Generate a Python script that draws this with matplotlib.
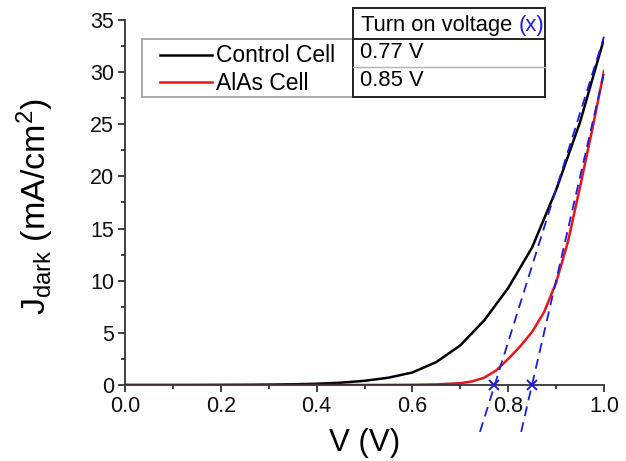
import matplotlib
matplotlib.use("Agg")
import matplotlib.pyplot as plt
from matplotlib.patches import Rectangle
from matplotlib.lines import Line2D
from matplotlib.ticker import MultipleLocator, FormatStrFormatter

plt.rcParams['font.family'] = ['Liberation Sans', 'DejaVu Sans']
plt.rcParams['mathtext.fontset'] = 'custom'
plt.rcParams['mathtext.rm'] = 'Liberation Sans'
plt.rcParams['mathtext.it'] = 'Liberation Sans:italic'

control_v = [0.0, 0.05, 0.1, 0.15, 0.2, 0.25, 0.3, 0.35, 0.4, 0.45, 0.5,
             0.55, 0.6, 0.65, 0.7, 0.75, 0.8, 0.85, 0.9, 0.95, 1.0]
control_j = [0.0, 0.0, 0.0, 0.0, 0.01, 0.02, 0.04, 0.07, 0.12, 0.22, 0.4,
             0.7, 1.2, 2.2, 3.8, 6.2, 9.3, 13.2, 18.7, 25.2, 33.2]
alas_v = [0.0, 0.1, 0.2, 0.3, 0.4, 0.5, 0.55, 0.6, 0.65, 0.7, 0.725, 0.75,
          0.775, 0.8, 0.825, 0.85, 0.875, 0.9, 0.925, 0.95, 0.975, 1.0]
alas_j = [0.0, 0.0, 0.0, 0.0, 0.0, 0.005, 0.01, 0.02, 0.06, 0.17, 0.35, 0.7,
          1.4, 2.5, 3.7, 5.1, 7.0, 9.8, 13.8, 19.0, 24.4, 30.1]
series_names = ["Control Cell", "AlAs Cell"]
series_colors = ["black", "#e8141a"]
turn_on = [0.77, 0.85]
turn_on_labels = ["0.77 V", "0.85 V"]
table_header = "Turn on voltage "
# tangent-line endpoints
tangent1_x = [0.741, 1.0]
tangent1_y = [-4.5, 33.4]
tangent2_x = [0.827, 1.0]
tangent2_y = [-4.5, 29.9]

W, H = 626, 461
BLUE = '#1c1ce0'
fig = plt.figure(figsize=(W / 100, H / 100), dpi=100)
ax = fig.add_axes([125 / W, 1 - 385 / H, (604 - 125) / W, (385 - 20) / H])

l1, = ax.plot(control_v, control_j, color=series_colors[0], lw=1.8, label=series_names[0])
l2, = ax.plot(alas_v, alas_j, color=series_colors[1], lw=1.8, label=series_names[1])
ax.plot(tangent1_x, tangent1_y, color=BLUE, lw=1.3, ls=(0, (5.5, 3.5)), clip_on=False)
ax.plot(tangent2_x, tangent2_y, color=BLUE, lw=1.3, ls=(0, (5.5, 3.5)), clip_on=False)
ax.plot(turn_on, [0, 0], ls='none', marker='x', color=BLUE, ms=7, mew=1.4,
        clip_on=False, zorder=5)

ax.set_xlim(0, 1.0)
ax.set_ylim(0, 35)
ax.xaxis.set_major_locator(MultipleLocator(0.2))
ax.xaxis.set_minor_locator(MultipleLocator(0.1))
ax.yaxis.set_major_locator(MultipleLocator(5))
ax.yaxis.set_minor_locator(MultipleLocator(2.5))
ax.xaxis.set_major_formatter(FormatStrFormatter('%.1f'))
for s in ['top', 'right']:
    ax.spines[s].set_visible(False)
for s in ['left', 'bottom']:
    ax.spines[s].set_color('#333333')
    ax.spines[s].set_linewidth(1.3)
ax.tick_params(which='major', direction='out', length=5, width=1.3, colors='#333333',
               labelsize=15.5, labelcolor='#111111', pad=3)
ax.tick_params(which='minor', direction='out', length=3.2, width=1.3, colors='#333333')

ax.set_xlabel('V (V)', fontsize=22.5)
ax.xaxis.set_label_coords(0.5, (385 - 443) / 365)
ax.xaxis.label.set_va('center')
ax.set_ylabel(r'J$_{\mathrm{dark}}$ (mA/cm$^{2}$)', fontsize=24.5)
ax.yaxis.set_label_coords((35 - 125) / 479, 0.49)
ax.yaxis.label.set_va('center')

def fx(p):
    return p / W

def fy(p):
    return 1 - p / H

# legend box (drawn manually to match the original placement)
fig.add_artist(Rectangle((fx(142), fy(97)), fx(353 - 142), (97 - 39) / H,
                         transform=fig.transFigure, facecolor='white',
                         edgecolor='#9a9a9a', lw=1.2, zorder=4))
for line, yc in zip([l1, l2], [55, 82]):
    fig.add_artist(Line2D([fx(160), fx(212)], [fy(yc), fy(yc)], transform=fig.transFigure,
                          color=line.get_color(), lw=1.8, zorder=5))
    fig.text(fx(216), fy(yc + 1), line.get_label(), fontsize=16.5, va='center',
             ha='left', zorder=5)

# table
tx0, tx1 = 353, 545
fig.add_artist(Rectangle((fx(tx0), fy(97)), fx(tx1 - tx0), (97 - 8) / H,
                         transform=fig.transFigure, facecolor='white',
                         edgecolor='#222222', lw=1.4, zorder=6))
fig.add_artist(Line2D([fx(tx0), fx(tx1)], [fy(39), fy(39)], transform=fig.transFigure,
                      color='#222222', lw=1.4, zorder=7))
fig.add_artist(Line2D([fx(tx0), fx(tx1)], [fy(67), fy(67)], transform=fig.transFigure,
                      color='#b0b0b0', lw=1.0, zorder=7))
TFS = 15.8
hdr = fig.text(fx(361), fy(25), table_header, fontsize=TFS, va='center', ha='left', zorder=8)
fig.canvas.draw()
r = hdr.get_window_extent()
fig.text(r.x1 / W, fy(25), '(x)', fontsize=TFS, color=BLUE, va='center', zorder=8)
fig.text(fx(360), fy(53), turn_on_labels[0], fontsize=TFS, va='center', ha='left', zorder=8)
fig.text(fx(360), fy(81), turn_on_labels[1], fontsize=TFS, va='center', ha='left', zorder=8)

fig.savefig('out.png', dpi=100)
